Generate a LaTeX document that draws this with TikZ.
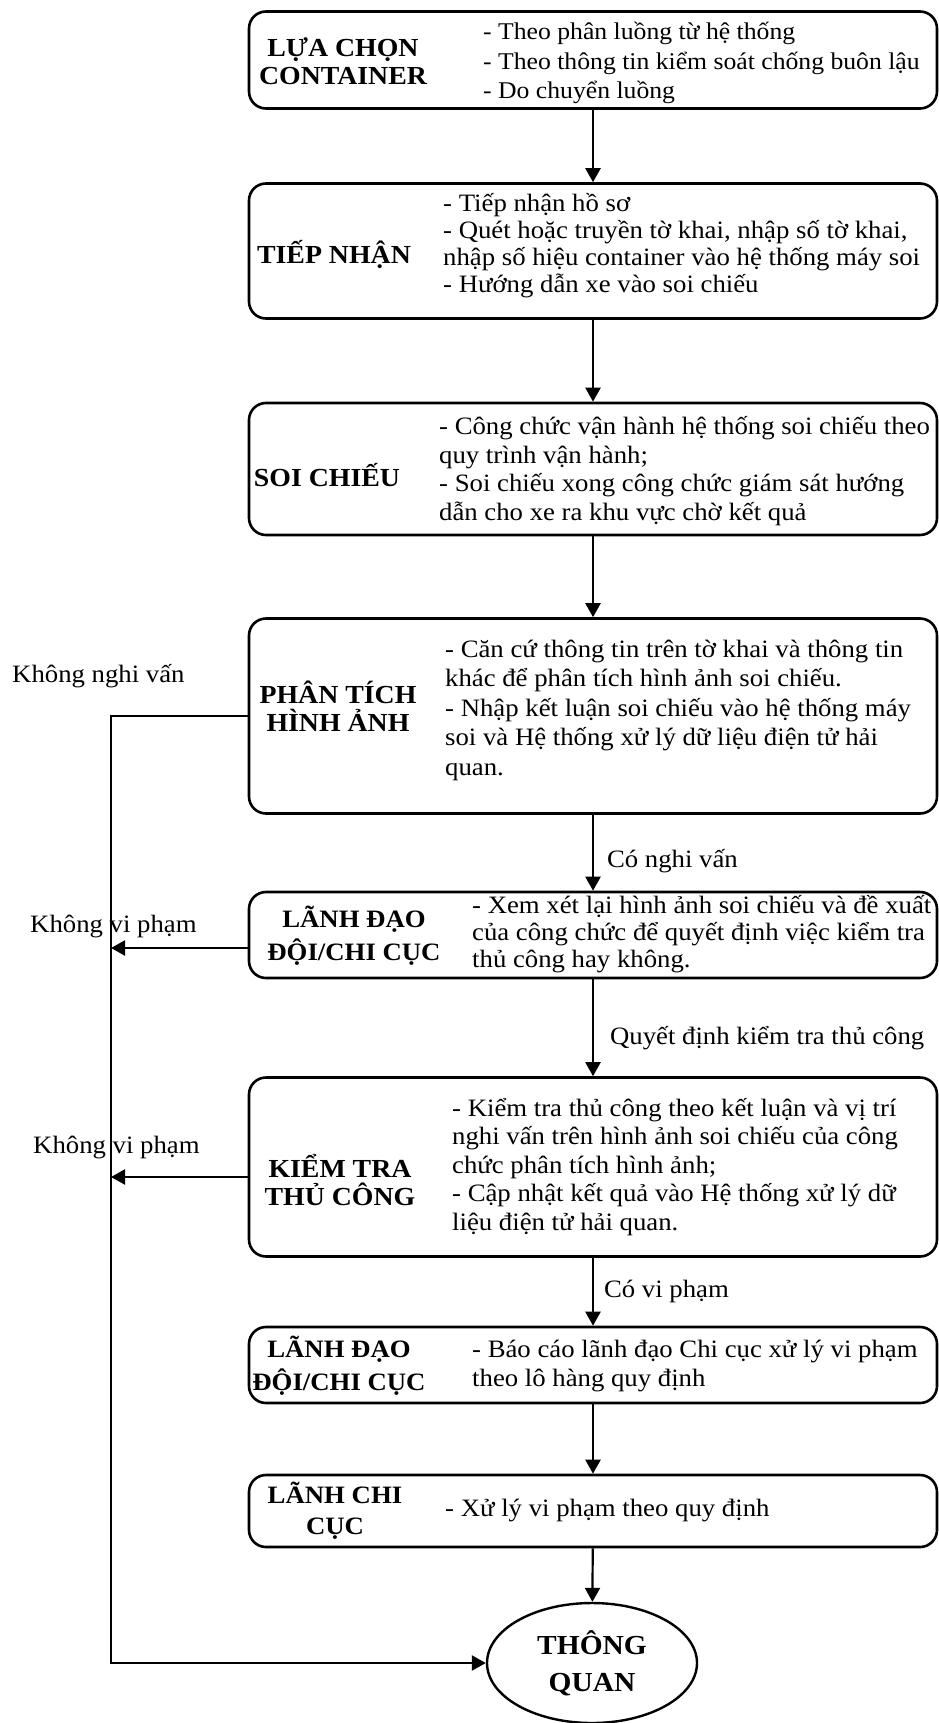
\documentclass[tikz,border=0pt]{standalone}
\usepackage{fontspec}
\setmainfont{Liberation Serif}[FakeStretch=1.07]
\usepackage{tikz}
\usetikzlibrary{shapes.geometric, arrows.meta}
\tikzset{
    normal/.style={draw, line width=2.6pt},
    stage/.style={style=normal, rounded corners=17pt, minimum width=688pt, inner sep=0pt},
    head/.style={font=\fontsize{26}{28.5}\selectfont\bfseries, align=center, inner sep=0pt},
    txt/.style={align=left, anchor=west, inner sep=0pt},
    lbl/.style={inner sep=0pt, anchor=base west},
    te/.style={line width=2.2pt},
    e/.style={style=te, -{Triangle[length=14pt, width=15pt]}}
}

\begin{document}
\fontsize{25}{28.5}\selectfont
\begin{tikzpicture}[x=1pt, y=-1pt]
          \useasboundingbox (0, 0) rectangle (939, 1723);

          \node[stage, minimum height=97pt] (luachon) at (593, 60) {};
          \node[head] (luachon-t) at (343, 61) {LỰA CHỌN\\CONTAINER};
          \node[txt, font=\fontsize{24}{29.5}\selectfont] (luachon-b) at (483, 63) {- Theo phân luồng từ hệ thống\\- Theo thông tin kiểm soát chống buôn lậu\\- Do chuyển luồng};

          \node[stage, minimum height=135pt] (tiepnhan) at (593, 251) {};
          \node[head] (tiepnhan-t) at (334, 254) {TIẾP NHẬN};
          \node[txt, font=\fontsize{25}{27}\selectfont] (tiepnhan-b) at (443, 246) {- Tiếp nhận hồ sơ\\- Quét hoặc truyền tờ khai, nhập số tờ khai,\\nhập số hiệu container vào hệ thống máy soi\\- Hướng dẫn xe vào soi chiếu};

          \node[stage, minimum height=132pt] (soichieu) at (593, 469) {};
          \node[head] (soichieu-t) at (327, 475) {SOI CHIẾU};
          \node[txt] (soichieu-b) at (439, 471) {- Công chức vận hành hệ thống soi chiếu theo\\quy trình vận hành;\\- Soi chiếu xong công chức giám sát hướng\\dẫn cho xe ra khu vực chờ kết quả};

          \node[stage, minimum height=195pt] (phantich) at (593, 716) {};
          \node[head] (phantich-t) at (338, 706) {PHÂN TÍCH\\HÌNH ẢNH};
          \node[txt, font=\fontsize{25}{29.5}\selectfont] (phantich-b) at (445, 710) {- Căn cứ thông tin trên tờ khai và thông tin\\khác để phân tích hình ảnh soi chiếu.\\- Nhập kết luận soi chiếu vào hệ thống máy\\soi và Hệ thống xử lý dữ liệu điện tử hải\\quan.};

          \node[stage, minimum height=86pt] (lanhdao1) at (593, 935) {};
          \node[head, font=\fontsize{25}{33}\selectfont\bfseries] (lanhdao1-t) at (354, 936) {LÃNH ĐẠO\\ĐỘI/CHI CỤC};
          \node[txt, font=\fontsize{25}{27}\selectfont] (lanhdao1-b) at (472, 934) {- Xem xét lại hình ảnh soi chiếu và đề xuất\\của công chức để quyết định việc kiểm tra\\thủ công hay không.};

          \node[stage, minimum height=179pt] (kiemtra) at (593, 1167) {};
          \node[head] (kiemtra-t) at (340, 1180) {KIỂM TRA\\THỦ CÔNG};
          \node[txt] (kiemtra-b) at (452, 1167) {- Kiểm tra thủ công theo kết luận và vị trí\\nghi vấn trên hình ảnh soi chiếu của công\\chức phân tích hình ảnh;\\- Cập nhật kết quả vào Hệ thống xử lý dữ\\liệu điện tử hải quan.};

          \node[stage, minimum height=76pt] (lanhdao2) at (593, 1365) {};
          \node[head, font=\fontsize{25}{33}\selectfont\bfseries] (lanhdao2-t) at (339, 1366) {LÃNH ĐẠO\\ĐỘI/CHI CỤC};
          \node[txt] (lanhdao2-b) at (472, 1366) {- Báo cáo lãnh đạo Chi cục xử lý vi phạm\\theo lô hàng quy định};

          \node[stage, minimum height=72pt] (lanhchicuc) at (593, 1511) {};
          \node[head, font=\fontsize{25}{31}\selectfont\bfseries] (lanhchicuc-t) at (335, 1511) {LÃNH CHI\\CỤC};
          \node[txt] (lanhchicuc-b) at (445, 1510) {- Xử lý vi phạm theo quy định};

          \node[style=normal, ellipse, line width=2.4pt, minimum width=210pt, minimum height=120pt, inner sep=0pt, font=\fontsize{27.5}{37}\selectfont\bfseries, align=center] (thongquan) at (592, 1663) {THÔNG\\QUAN};

          \coordinate (split) at (111, 716);
          \node[lbl] (khongnghivan) at (12, 682) {Không nghi vấn};
          \node[lbl] (khongvipham1) at (30, 932) {Không vi phạm};
          \node[lbl] (khongvipham2) at (33, 1153) {Không vi phạm};

          \draw[e] (luachon) to (tiepnhan);
          \draw[e] (tiepnhan) to (soichieu);
          \draw[e] (soichieu) to (phantich);
          \draw[e] (phantich) to node[lbl, anchor=west, xshift=13pt, yshift=-8pt] (conghivan) {Có nghi vấn} (lanhdao1);
          \draw[e] (lanhdao1) to node[lbl, anchor=west, xshift=16pt, yshift=-10pt] (quyetdinh) {Quyết định kiểm tra thủ công} (kiemtra);
          \draw[e] (kiemtra) to node[lbl, anchor=west, xshift=10pt] (covipham) {Có vi phạm} (lanhdao2);
          \draw[e] (lanhdao2) to (lanhchicuc);
          \draw[e] (lanhchicuc) to (thongquan);

          \draw[e] (phantich.west) to (split) |- (thongquan.west);
          \draw[e] ([yshift=-13pt]lanhdao1.west) to ([yshift=-13pt]lanhdao1.west -| split);
          \draw[e] ([yshift=-10pt]kiemtra.west) to ([yshift=-10pt]kiemtra.west -| split);
        \end{tikzpicture}
\end{document}
